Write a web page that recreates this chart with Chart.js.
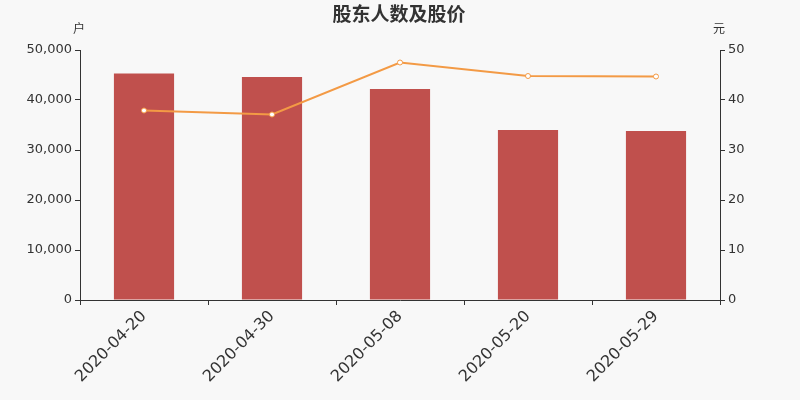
<!DOCTYPE html>
<html>
<head>
<meta charset="utf-8">
<script src="https://cdn.jsdelivr.net/npm/chart.js@4"></script>
<style>
  html, body { margin: 0; padding: 0; background: #f8f8f8; }
  #wrap { width: 800px; height: 400px; }
</style>
</head>
<body>
<div id="wrap"><canvas id="c" width="800" height="400"></canvas></div>
<script>
var dates = ["2020-04-20", "2020-04-30", "2020-05-08", "2020-05-20", "2020-05-29"];
var holders = [45300, 44600, 42200, 34000, 33800];
var prices = [37.9, 37.1, 47.5, 44.8, 44.7];

var FONT = "DejaVu Sans, 'Noto Sans CJK SC', sans-serif";
var CJK = "'Noto Sans CJK SC', 'DejaVu Sans', sans-serif";

// title and unit labels drawn over the chart
var labelsPlugin = {
    id: "labels",
    afterDraw: function(chart) {
        var ctx = chart.ctx, area = chart.chartArea;
        ctx.save();
        ctx.fillStyle = "#333";
        ctx.textAlign = "center";
        ctx.textBaseline = "middle";
        ctx.font = "bold 19px " + CJK;
        ctx.fillText("股东人数及股价", 399, 14);
        ctx.font = "12px " + CJK;
        ctx.fillText("户", area.left - 1, 28);
        ctx.fillText("元", area.right - 1, 28);
        ctx.restore();
    }
};

new Chart(document.getElementById("c"), {
    data: {
        labels: dates,
        datasets: [
            {
                type: "line", label: "股价", data: prices, yAxisID: "y1",
                borderColor: "#f39a45", borderWidth: 2,
                pointRadius: 2.5, pointBackgroundColor: "#fff", pointBorderColor: "#f39a45", pointBorderWidth: 1,
                tension: 0, order: 0
            },
            {
                type: "bar", label: "股东人数", data: holders, yAxisID: "y",
                backgroundColor: "#c0504d", categoryPercentage: 0.47, barPercentage: 1, order: 1
            }
        ]
    },
    options: {
        animation: false,
        responsive: false,
        layout: { padding: { top: 50, left: 0, right: 0, bottom: 0 } },
        plugins: { legend: { display: false }, tooltip: { enabled: false }, title: { display: false } },
        scales: {
            x: {
                offset: true,
                grid: { offset: true, drawOnChartArea: false, drawTicks: true, tickLength: 5, color: "#333" },
                border: { display: true, color: "#333", width: 1 },
                ticks: { color: "#333", font: { family: FONT, size: 16 }, maxRotation: 45, minRotation: 45, padding: 2 },
                afterFit: function(s) { s.height = 100; }
            },
            y: {
                position: "left", min: 0, max: 50000,
                grid: { drawOnChartArea: false, tickLength: 5, color: "#333" },
                border: { display: true, color: "#333" },
                ticks: {
                    stepSize: 10000, color: "#333", font: { family: FONT, size: 13 }, padding: 3,
                    callback: function(v) { return v.toLocaleString("en-US"); }
                },
                afterFit: function(s) { s.width = 80; }
            },
            y1: {
                position: "right", min: 0, max: 50,
                grid: { drawOnChartArea: false, tickLength: 5, color: "#333" },
                border: { display: true, color: "#333" },
                ticks: { stepSize: 10, color: "#333", font: { family: FONT, size: 13 }, padding: 3 },
                afterFit: function(s) { s.width = 80; }
            }
        }
    },
    plugins: [labelsPlugin]
});
</script>
</body>
</html>
